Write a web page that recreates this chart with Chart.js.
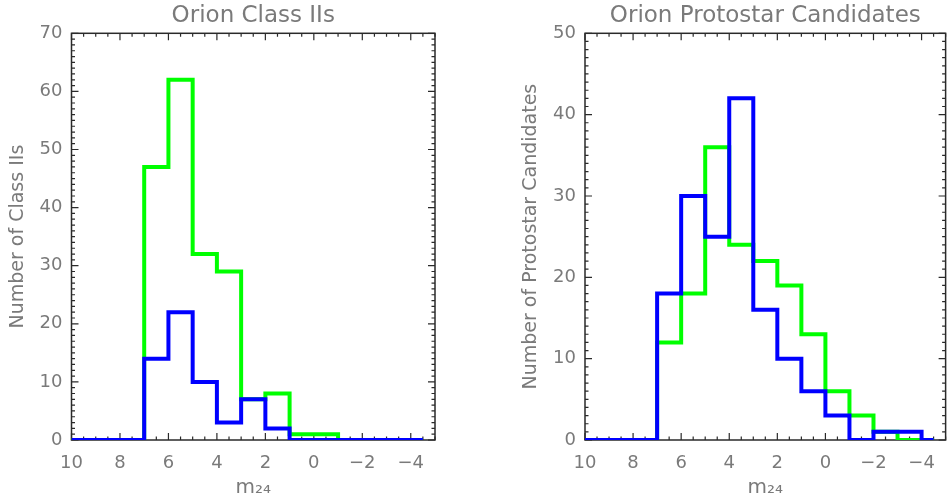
<!DOCTYPE html>
<html lang="en">
<head>
    <meta charset="UTF-8">
    <title>Orion m24 histograms</title>
    <script src="https://cdn.jsdelivr.net/npm/chart.js"></script>
    <style>
        body { margin: 0; background: #fff; }
        .panel { position: absolute; top: 0; width: 474px; height: 504px; }
    </style>
</head>
<body>
    <div class="panel" style="left:0"><canvas id="classII" width="474" height="504"></canvas></div>
    <div class="panel" style="left:474px"><canvas id="protostars" width="474" height="504"></canvas></div>

    <script>
        // bin edges in m24 (bright end on the right), one count per bin
        const binEdges = [10, 9, 8, 7, 6, 5, 4, 3, 2, 1, 0, -1, -2, -3, -4, -4.5];

        const classIIGreen = [0, 0, 0, 47, 62, 32, 29, 7, 8, 1, 1, 0, 0, 0, 0];
        const classIIBlue  = [0, 0, 0, 14, 22, 10, 3, 7, 2, 0, 0, 0, 0, 0, 0];

        const protoGreen = [0, 0, 0, 12, 18, 36, 24, 22, 19, 13, 6, 3, 1, 0, 0];
        const protoBlue  = [0, 0, 0, 18, 30, 25, 42, 16, 10, 6, 3, 0, 1, 1, 0];

        const xTickValues = [10, 8, 6, 4, 2, 0, -2, -4];
        const classIIYTicks = [0, 10, 20, 30, 40, 50, 60, 70];
        const protoYTicks = [0, 10, 20, 30, 40, 50];

        const textColor = '#7a7a7a';
        const fontFamily = "'DejaVu Sans', sans-serif";

        // turn per-bin counts into step-line points
        function stepPoints(counts) {
            const pts = counts.map((c, i) => ({ x: binEdges[i], y: c }));
            pts.push({ x: binEdges[binEdges.length - 1], y: counts[counts.length - 1] });
            return pts;
        }

        // IDL-style box: frame on all four sides with inward major/minor ticks
        const frameTicks = {
            id: 'frameTicks',
            beforeDatasetsDraw(chart) {
                const { ctx, chartArea: a, scales: { x, y } } = chart;
                ctx.save();
                ctx.strokeStyle = '#2a2a2a';
                ctx.lineWidth = 1.5;
                ctx.strokeRect(a.left, a.top, a.right - a.left, a.bottom - a.top);
                ctx.lineWidth = 1.2;
                ctx.beginPath();
                for (let v = x.min; v <= x.max; v += 0.5) {
                    const px = x.getPixelForValue(v);
                    const len = v % 2 === 0 ? 7 : 3.5;
                    ctx.moveTo(px, a.bottom); ctx.lineTo(px, a.bottom - len);
                    ctx.moveTo(px, a.top); ctx.lineTo(px, a.top + len);
                }
                for (let v = y.min; v <= y.max; v += 1) {
                    const py = y.getPixelForValue(v);
                    const len = v % 10 === 0 ? 7 : 3.5;
                    ctx.moveTo(a.left, py); ctx.lineTo(a.left + len, py);
                    ctx.moveTo(a.right, py); ctx.lineTo(a.right - len, py);
                }
                ctx.stroke();
                ctx.restore();
            }
        };

        function makeHistogram(canvasId, opt) {
            return new Chart(document.getElementById(canvasId), {
                type: 'line',
                data: {
                    datasets: [
                        { data: stepPoints(opt.blue), borderColor: '#0000ff' },
                        { data: stepPoints(opt.green), borderColor: '#00ff00' }
                    ]
                },
                options: {
                    responsive: false,
                    animation: false,
                    layout: { padding: { left: 0, right: opt.padRight, top: 0, bottom: 0 } },
                    datasets: {
                        line: {
                            stepped: true,
                            borderWidth: 4,
                            pointRadius: 0,
                            fill: false,
                            borderJoinStyle: 'miter',
                            borderCapStyle: 'butt'
                        }
                    },
                    plugins: {
                        legend: { display: false },
                        tooltip: { enabled: false },
                        title: {
                            display: true,
                            fullSize: false,
                            text: opt.title,
                            color: textColor,
                            font: { family: fontFamily, size: 23, weight: 'normal' },
                            padding: { top: 2, bottom: 3.7 }
                        }
                    },
                    scales: {
                        x: {
                            type: 'linear',
                            reverse: true,
                            min: -5,
                            max: 10,
                            afterBuildTicks: s => { s.ticks = xTickValues.map(v => ({ value: v })); },
                            afterFit: s => { s.height = 64; },
                            grid: { display: false, drawTicks: false },
                            border: { display: false },
                            ticks: {
                                color: textColor,
                                padding: 13,
                                maxRotation: 0,
                                font: { family: fontFamily, size: 18 },
                                callback: v => String(v).replace('-', '\u2212')
                            },
                            title: {
                                display: true,
                                text: 'm\u2082\u2084',
                                color: textColor,
                                font: { family: fontFamily, size: 20 },
                                padding: { top: 4, bottom: 4 }
                            }
                        },
                        y: {
                            min: 0,
                            max: opt.yMax,
                            afterBuildTicks: s => { s.ticks = opt.yTicks.map(v => ({ value: v })); },
                            afterFit: s => { s.width = opt.yWidth; },
                            grid: { display: false, drawTicks: false },
                            border: { display: false },
                            ticks: {
                                color: textColor,
                                padding: 9,
                                font: { family: fontFamily, size: 18 }
                            },
                            title: {
                                display: true,
                                text: opt.yTitle,
                                color: textColor,
                                font: { family: fontFamily, size: 19 },
                                padding: { top: opt.yTitlePad, bottom: opt.yTitlePad }
                            }
                        }
                    }
                },
                plugins: [frameTicks]
            });
        }

        makeHistogram('classII', {
            title: 'Orion Class IIs',
            yTitle: 'Number of Class IIs',
            green: classIIGreen,
            blue: classIIBlue,
            yMax: 70,
            yTicks: classIIYTicks,
            yWidth: 71.5,
            yTitlePad: 6.6,
            padRight: 39
        });

        makeHistogram('protostars', {
            title: 'Orion Protostar Candidates',
            yTitle: 'Number of Protostar Candidates',
            green: protoGreen,
            blue: protoBlue,
            yMax: 50,
            yTicks: protoYTicks,
            yWidth: 111,
            yTitlePad: 45.6,
            padRight: 1
        });
    </script>
</body>
</html>
